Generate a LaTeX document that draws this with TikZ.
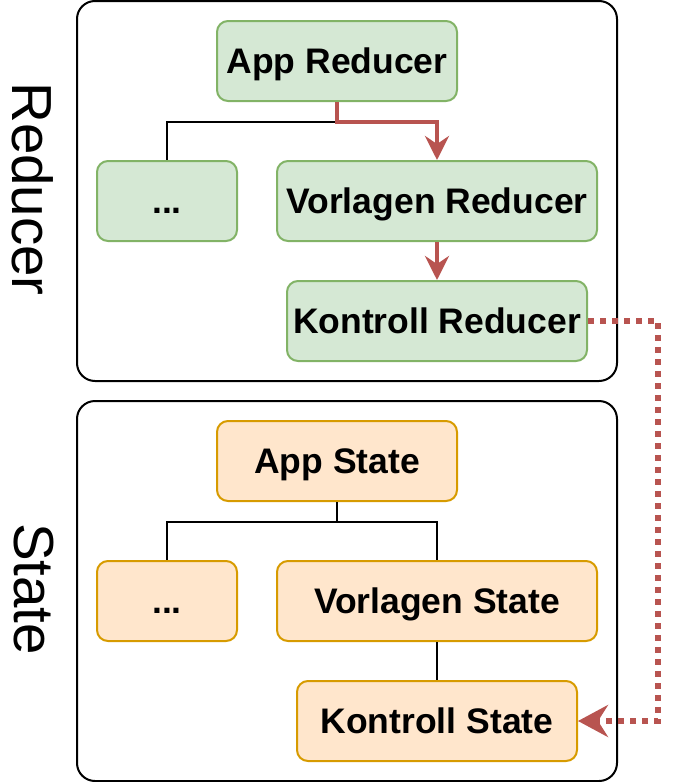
\documentclass[tikz,border=0pt]{standalone}
\usepackage{fontspec}
\setmainfont{Liberation Sans}
\usetikzlibrary{arrows.meta}
\definecolor{grfill}{HTML}{D5E8D4}
\definecolor{grline}{HTML}{82B366}
\definecolor{orfill}{HTML}{FFE6CC}
\definecolor{orline}{HTML}{D79B00}
\definecolor{rdline}{HTML}{B85450}

\tikzset{
  frame/.style={draw=black,line width=2pt,rounded corners=18pt},
  box/.style={rounded corners=11pt,line width=2pt,inner sep=0pt,minimum height=80pt,
    text height=25.4pt,text depth=0pt,
    font=\fontsize{35.5}{40}\selectfont\bfseries},
  redbox/.style={box,draw=grline,fill=grfill},
  statebox/.style={box,draw=orline,fill=orfill},
  side/.style={rotate=-90,inner sep=0pt,font=\fontsize{56.5}{60}\selectfont},
  tree/.style={draw=black,line width=2pt},
  flow/.style={draw=rdline,line width=4pt,-{Stealth[length=24pt,width=24pt,inset=8pt]}},
  hop/.style={draw=rdline,line width=6pt,dash pattern=on 6pt off 6pt,
    -{Stealth[length=30pt,width=32pt,inset=10pt]}}
}

\begin{document}
\begin{tikzpicture}[x=1pt,y=-1pt,line join=miter]
  \useasboundingbox (0,0) rectangle (676,782);
  % frames
  \draw[frame] (77,1) rectangle (617,381);
  \draw[frame] (77,401) rectangle (617,781);
  \node[side] (lblrd) at (33,189) {Reducer};
  \node[side] (lblst) at (34,589) {State};
  % reducer tree
  \node[redbox,minimum width=240pt] (apprd) at (337,61) {App Reducer};
  \node[redbox,minimum width=140pt] (dotsrd) at (167,201) {...};
  \node[redbox,minimum width=320pt] (vorlrd) at (437,201) {Vorlagen Reducer};
  \node[redbox,minimum width=300pt] (kontrd) at (437,321) {Kontroll Reducer};
  % state tree
  \node[statebox,minimum width=240pt] (appst) at (337,461) {App State};
  \node[statebox,minimum width=140pt] (dotsst) at (167,601) {...};
  \node[statebox,minimum width=320pt] (vorlst) at (437,601) {Vorlagen State};
  \node[statebox,minimum width=280pt] (kontst) at (437,721) {Kontroll State};
  % connectors
  \draw[tree] (apprd.south) -- ++(0,20) -| (dotsrd.north);
  \draw[flow] (apprd.south) -- ++(0,20) -| (vorlrd.north);
  \draw[flow] (vorlrd.south) -- (kontrd.north);
  \draw[tree] (appst.south) -- ++(0,20) -| (dotsst.north);
  \draw[tree] (appst.south) -- ++(0,20) -| (vorlst.north);
  \draw[tree] (vorlst.south) -- (kontst.north);
  \draw[hop] (kontrd.east) -- ++(70,0) |- (kontst.east);
\end{tikzpicture}
\end{document}
